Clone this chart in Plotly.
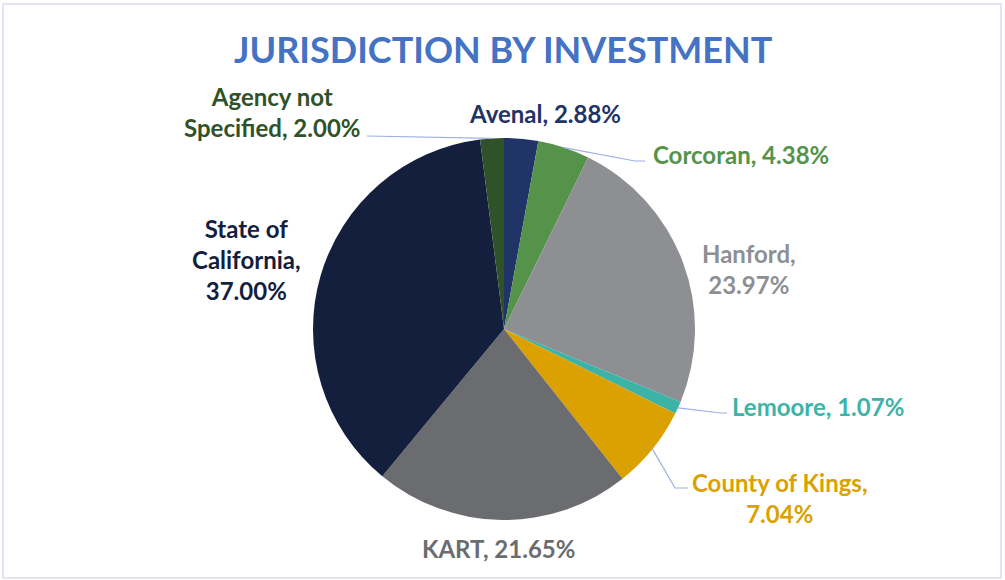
import math
import plotly.graph_objects as go

# ---- data ----
labels = ["Avenal", "Corcoran", "Hanford", "Lemoore", "County of Kings",
          "KART", "State of California", "Agency not Specified"]
values = [2.88, 4.38, 23.97, 1.07, 7.04, 21.65, 37.00, 2.00]
label_text = ["Avenal, 2.88%", "Corcoran, 4.38%", "Hanford,<br>23.97%", "Lemoore, 1.07%",
              "County of Kings,<br>7.04%", "KART, 21.65%", "State of<br>California,<br>37.00%",
              "Agency not<br>Specified, 2.00%"]

# ---- styles ----
slice_colors = ["#213468", "#55934a", "#8e8f93", "#3db3a8", "#dba100",
                "#6b6c70", "#141e3d", "#2f5229"]
text_colors = ["#223366", "#55934a", "#8e8f93", "#3db3a8", "#dba100",
               "#6b6c70", "#141e3d", "#2f5229"]
W, H = 1005, 580
cx, cy, R = 504, 329, 191
# label centres (pixels)
label_pos = [(545, 113), (741, 155), (749, 269), (818, 406), (780, 498),
             (498, 548), (246, 259), (272, 112)]
# leader line tails (pixels), None = no leader
leader_tail = [None, [(635, 161), (645, 161)], None, [(721, 413), (727, 413)],
               [(675, 488), (688, 488)], None, None, [(367, 136)]]
FONT = "Lato"


def px(x, y):
    return x / W, 1 - y / H


fig = go.Figure()
fig.add_trace(go.Pie(
    labels=labels, values=values, sort=False, direction="clockwise", rotation=0,
    marker=dict(colors=slice_colors, line=dict(width=0)),
    textinfo="none", hoverinfo="skip", showlegend=False,
    domain=dict(x=[(cx - R) / W, (cx + R) / W], y=[1 - (cy + R) / H, 1 - (cy - R) / H]),
))

total = sum(values)
cum = 0
shapes = []
annotations = []
for i, v in enumerate(values):
    mid = (cum + v / 2) / total * 2 * math.pi
    cum += v
    sx, sy = cx + R * math.sin(mid), cy - R * math.cos(mid)
    if leader_tail[i]:
        pts = [(sx, sy)] + leader_tail[i]
        path = "M " + " L ".join(f"{px(x, y)[0]},{px(x, y)[1]}" for x, y in pts)
        shapes.append(dict(type="path", xref="paper", yref="paper", path=path,
                           line=dict(color="#9db0e4", width=1.2)))
    lx, ly = px(*label_pos[i])
    annotations.append(dict(text=label_text[i], x=lx, y=ly, xref="paper", yref="paper",
                            xanchor="center", yanchor="middle", showarrow=False, align="center",
                            font=dict(family=FONT, size=24, color=text_colors[i], weight="bold")))

# chart border
x0, y0 = px(3, 4)
x1, y1 = px(1001, 578)
shapes.append(dict(type="rect", xref="paper", yref="paper", x0=x0, y0=y1, x1=x1, y1=y0,
                   line=dict(color="#d9dcef", width=1.5)))

tx, ty = px(504, 49)
annotations.append(dict(text="JURISDICTION BY INVESTMENT", x=tx, y=ty, xref="paper", yref="paper",
                        xanchor="center", yanchor="middle", showarrow=False,
                        font=dict(family=FONT, size=36, color="#4472c4", weight="bold")))

fig.update_layout(width=W, height=H, margin=dict(l=0, r=0, t=0, b=0),
                  paper_bgcolor="white", plot_bgcolor="white",
                  shapes=shapes, annotations=annotations)
fig.write_html("out.html", config={"displayModeBar": False},
               post_script="document.body.style.margin='0';")
